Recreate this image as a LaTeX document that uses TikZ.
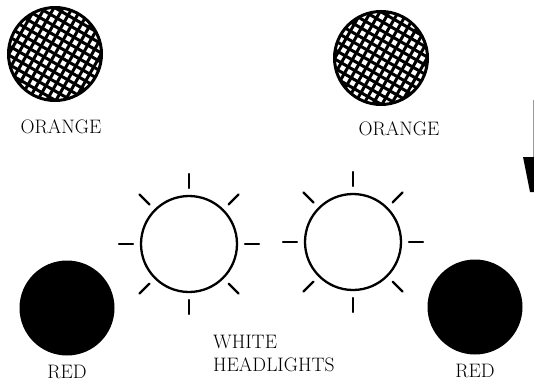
\documentclass[tikz,border=0pt]{standalone}
\usepackage{tikz}
\usetikzlibrary{positioning,calc}

\begin{document}
\begin{tikzpicture}[x=1pt, y=-1pt,
  lbl/.style={font=\fontsize{19.5}{23}\selectfont, inner sep=0pt, align=left},
  hatch/.style={line width=3pt},
  orange/.style={circle, draw, line width=3pt, minimum size=93pt, inner sep=0pt,
                 path picture={
                   \foreach \k in {-64,-56,...,64} {
                     \draw[hatch] ($(path picture bounding box.center)+(30:\k)+(120:70)$)
                                  -- ($(path picture bounding box.center)+(30:\k)+(-60:70)$);
                     \draw[hatch] ($(path picture bounding box.center)+(120:\k)+(30:70)$)
                                  -- ($(path picture bounding box.center)+(120:\k)+(210:70)$);
                   }}},
  redlamp/.style={circle, fill=black, minimum size=95pt, inner sep=0pt},
  headlamp/.style={circle, draw, line width=2.3pt, minimum size=96pt, inner sep=0pt},
  ray/.style={line width=2.4pt, line cap=round}
]
\useasboundingbox (0,0) rectangle (534,383);

% top lamps
\node[orange] (orL) at (55,54) {};
\node[orange] (orR) at (381,58) {};
\node[lbl, below=18pt of orL, xshift=6pt]  (orLlbl) {ORANGE};
\node[lbl, below=16pt of orR, xshift=18pt] (orRlbl) {ORANGE};

% headlights
\node[headlamp] (hlL) at (189,244) {};
\node[headlamp] (hlR) at (353,242) {};
\foreach \a in {0,45,...,315} {
  \draw[ray] (hlL.center) ++(\a:56) -- ++(\a:14);
  \draw[ray] (hlR.center) ++(\a:56) -- ++(\a:14);
}
\node[lbl, anchor=north west] (hlLbl) at (213,335) {WHITE\\HEADLIGHTS};

% tail lamps
\node[redlamp] (redL) at (67,308) {};
\node[redlamp] (redR) at (475,307) {};
\node[lbl, below=9pt of redL] (redLlbl) {RED};
\node[lbl, below=9pt of redR] (redRlbl) {RED};

% edge of next figure
\draw[black!40, line width=0.6pt] (533,100) -- (533,157);
\fill (523,157) -- (534,157) -- (534,192) -- (530,192) -- cycle;
\end{tikzpicture}
\end{document}
